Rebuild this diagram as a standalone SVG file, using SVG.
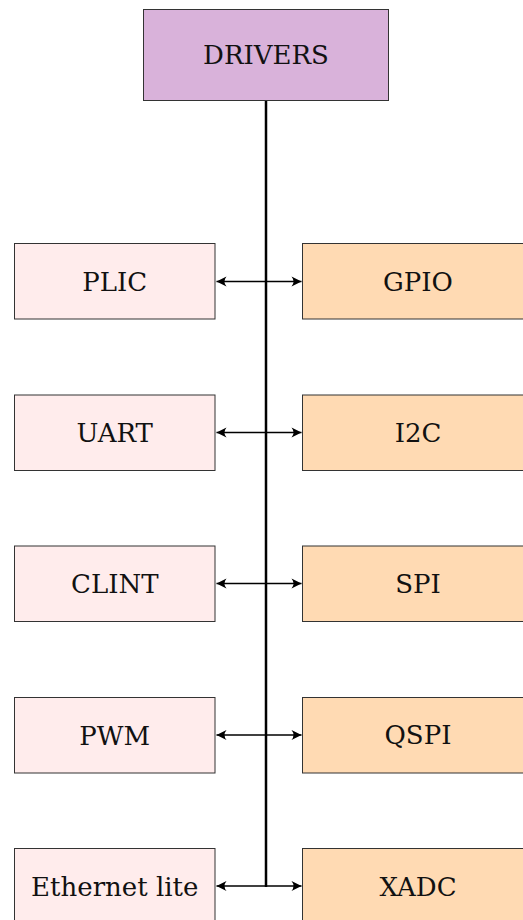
<svg xmlns="http://www.w3.org/2000/svg" width="523" height="920" viewBox="0 0 523 920">
<style>
.box{stroke:#333;stroke-width:1}
.top{fill:#D9B2DA}
.l{fill:#FFECEC}
.r{fill:#FFDAB3}
text{font-family:"DejaVu Serif","Liberation Serif",serif;font-size:26px;fill:#111;text-anchor:middle}
.c{stroke:#000;stroke-width:1.3;fill:none}
.bus{stroke:#000;stroke-width:2.5;fill:none}
</style>
<defs>
<marker id="ah" markerUnits="userSpaceOnUse" markerWidth="12" markerHeight="12" viewBox="-11 -6 12 12" refX="0" refY="0" orient="auto">
<path d="M0,0 L-10,-5 Q-6,0 -10,5 Z" fill="#000"/>
</marker>
</defs>
<rect width="523" height="920" fill="#fff"/>
<g id="connectors">
<line class="bus" x1="266" y1="100" x2="266" y2="887"/>
<line class="c" x1="266" y1="281.5" x2="216.5" y2="281.5" marker-end="url(#ah)"/>
<line class="c" x1="266" y1="281.5" x2="301.5" y2="281.5" marker-end="url(#ah)"/>
<line class="c" x1="266" y1="432.5" x2="216.5" y2="432.5" marker-end="url(#ah)"/>
<line class="c" x1="266" y1="432.5" x2="301.5" y2="432.5" marker-end="url(#ah)"/>
<line class="c" x1="266" y1="583.5" x2="216.5" y2="583.5" marker-end="url(#ah)"/>
<line class="c" x1="266" y1="583.5" x2="301.5" y2="583.5" marker-end="url(#ah)"/>
<line class="c" x1="266" y1="735" x2="216.5" y2="735" marker-end="url(#ah)"/>
<line class="c" x1="266" y1="735" x2="301.5" y2="735" marker-end="url(#ah)"/>
<line class="c" x1="266" y1="886" x2="216.5" y2="886" marker-end="url(#ah)"/>
<line class="c" x1="266" y1="886" x2="301.5" y2="886" marker-end="url(#ah)"/>
</g>
<g id="drivers"><rect class="box top" x="143.5" y="9.5" width="245" height="91"/><text x="266" y="64">DRIVERS</text></g>
<g id="plic"><rect class="box l" x="14.5" y="243.5" width="200.5" height="75.5"/><text x="114.75" y="291">PLIC</text></g>
<g id="gpio"><rect class="box r" x="302.5" y="243.5" width="231" height="75.5"/><text x="418" y="291">GPIO</text></g>
<g id="uart"><rect class="box l" x="14.5" y="395" width="200.5" height="75.5"/><text x="114.75" y="442">UART</text></g>
<g id="i2c"><rect class="box r" x="302.5" y="395" width="231" height="75.5"/><text x="418" y="442">I2C</text></g>
<g id="clint"><rect class="box l" x="14.5" y="546" width="200.5" height="75.5"/><text x="114.75" y="593">CLINT</text></g>
<g id="spi"><rect class="box r" x="302.5" y="546" width="231" height="75.5"/><text x="418" y="593">SPI</text></g>
<g id="pwm"><rect class="box l" x="14.5" y="697.5" width="200.5" height="75.5"/><text x="114.75" y="745">PWM</text></g>
<g id="qspi"><rect class="box r" x="302.5" y="697.5" width="231" height="75.5"/><text x="418" y="744">QSPI</text></g>
<g id="ethernet"><rect class="box l" x="14.5" y="848.5" width="200.5" height="76"/><text x="114.75" y="896">Ethernet lite</text></g>
<g id="xadc"><rect class="box r" x="302.5" y="848.5" width="231" height="76"/><text x="418" y="896">XADC</text></g>
</svg>
